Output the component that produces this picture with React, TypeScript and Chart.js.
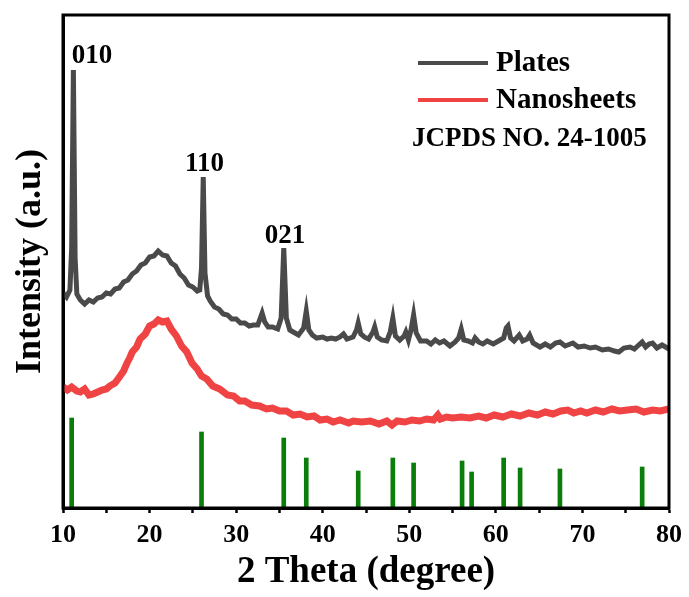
import React, { useEffect, useRef } from 'react';
import { Chart, registerables } from 'chart.js';

Chart.register(...registerables);

const SERIF = '"Liberation Serif", "Times New Roman", serif';

// Plates (black/gray trace)
const platesTheta = [10.0, 10.4, 10.8, 11.0, 11.2, 11.4, 11.6, 12.0, 12.5, 13.0, 13.5, 14.0, 14.5, 15.0, 15.5, 16.0, 16.5, 17.0, 17.5, 18.0, 18.5, 19.0, 19.5, 20.0, 20.5, 21.0, 21.5, 22.0, 22.5, 23.0, 23.5, 24.0, 24.5, 25.0, 25.5, 25.8, 26.0, 26.2, 26.4, 26.7, 27.0, 27.5, 28.0, 28.5, 29.0, 29.5, 30.0, 30.5, 31.0, 31.5, 32.0, 32.5, 33.0, 33.3, 33.7, 34.2, 34.8, 35.2, 35.5, 35.8, 36.2, 36.6, 37.2, 37.8, 38.1, 38.4, 38.8, 39.3, 40.0, 40.5, 41.0, 41.5, 42.0, 42.4, 42.8, 43.5, 43.9, 44.1, 44.4, 44.8, 45.3, 45.8, 46.0, 46.3, 46.8, 47.4, 47.8, 48.1, 48.4, 48.9, 49.4, 49.6, 49.9, 50.2, 50.5, 50.8, 51.3, 52.0, 52.5, 53.0, 53.5, 54.0, 54.7, 55.3, 55.7, 56.0, 56.3, 56.8, 57.3, 57.6, 58.0, 58.5, 59.0, 59.7, 60.3, 60.9, 61.2, 61.4, 61.7, 62.1, 62.7, 63.1, 63.6, 63.9, 64.3, 65.1, 65.7, 66.3, 66.9, 67.4, 68.0, 68.9, 69.5, 70.2, 70.9, 71.5, 72.3, 73.0, 73.7, 74.2, 74.8, 75.5, 76.0, 76.5, 76.9, 77.3, 77.7, 78.1, 78.6, 79.2, 80.0];
const platesIntensity = [215, 211, 218, 260, 438, 250, 214, 208, 204, 208, 206, 210, 211, 215, 214, 219, 220, 226, 228, 234, 237, 243, 245, 251, 252, 257, 253, 252, 245, 242, 234, 230, 223, 221, 217, 218, 240, 331, 235, 212, 207, 201, 199, 194, 193, 189, 189, 185, 185, 182, 183, 183, 195, 186, 181, 181, 179, 190, 260, 190, 178, 176, 173, 180, 197, 178, 173, 170, 171, 169, 170, 169, 171, 174, 169, 171, 178, 185, 174, 171, 169, 176, 181, 171, 168, 167, 176, 190, 172, 168, 172, 176, 168, 178, 193, 175, 167, 167, 164, 168, 165, 167, 162, 166, 170, 179, 168, 167, 165, 170, 166, 164, 167, 164, 167, 170, 180, 182, 170, 167, 173, 167, 169, 173, 165, 161, 164, 161, 165, 166, 162, 165, 161, 162, 160, 161, 158, 159, 157, 156, 160, 161, 159, 163, 166, 161, 164, 165, 160, 163, 159];

// Nanosheets (red trace)
const nanoTheta = [10.0, 10.5, 11.0, 11.6, 12.0, 12.5, 13.0, 13.5, 14.0, 14.5, 15.0, 15.4, 16.0, 16.6, 17.0, 17.4, 17.7, 18.0, 18.5, 18.9, 19.5, 20.0, 20.5, 21.0, 21.5, 22.0, 22.5, 23.1, 23.7, 24.3, 24.9, 25.5, 26.0, 26.6, 27.3, 28.1, 29.0, 29.7, 30.4, 31.0, 31.8, 32.7, 33.5, 34.2, 35.0, 35.8, 36.6, 37.4, 38.2, 39.0, 39.7, 40.5, 41.2, 42.0, 43.0, 43.5, 44.5, 45.5, 46.5, 47.4, 48.0, 48.6, 49.5, 50.3, 51.2, 52.0, 52.8, 53.3, 53.6, 54.3, 55.0, 56.0, 57.0, 58.0, 58.9, 59.8, 60.8, 61.8, 62.8, 63.8, 64.8, 65.7, 66.6, 67.5, 68.3, 69.0, 69.8, 70.5, 71.5, 72.4, 73.4, 74.3, 75.2, 76.2, 77.1, 78.1, 79.0, 80.0];
const nanoIntensity = [121, 118, 121, 117, 116, 119, 113, 114, 116, 118, 119, 122, 125, 132, 137, 145, 150, 156, 161, 169, 174, 182, 184, 188, 186, 187, 179, 172, 162, 156, 145, 139, 132, 129, 122, 119, 113, 112, 107, 107, 103, 102, 99, 100, 97, 97, 93, 94, 91, 92, 88, 89, 86, 88, 85, 87, 86, 87, 84, 87, 83, 87, 86, 88, 87, 89, 88, 93, 89, 91, 90, 91, 90, 92, 90, 93, 91, 94, 92, 95, 93, 96, 94, 97, 98, 95, 97, 95, 98, 96, 99, 97, 98, 99, 96, 98, 97, 99];

// JCPDS No. 24-1005 reference sticks
const jcpdsTheta = [11.0, 26.0, 35.5, 38.1, 44.1, 48.1, 50.5, 56.1, 57.2, 60.9, 62.8, 67.4, 76.9];
const jcpdsIntensity = [90, 76, 70, 50, 37, 50, 45, 47, 36, 50, 40, 39, 41];

// Peak labels
const hklLabels = ['010', '110', '021'];
const hklTheta = [13.35, 26.35, 35.64];
const hklIntensity = [452, 344, 272];

const xTicks = [10, 20, 30, 40, 50, 60, 70, 80];

const seriesNames = ['Plates', 'Nanosheets'];
const seriesColors = ['#4a4a4a', '#f04343'];
const refLabel = 'JCPDS NO. 24-1005';

const overlay = {
  id: 'overlay',
  afterDraw(chart: any) {
    const { ctx, chartArea, scales } = chart;
    const xs = scales.x;
    const ys = scales.y;
    ctx.save();
    ctx.strokeStyle = '#000';
    ctx.lineWidth = 3;
    ctx.strokeRect(chartArea.left, chartArea.top, chartArea.right - chartArea.left, chartArea.bottom - chartArea.top);
    ctx.fillStyle = '#000';
    ctx.font = `bold 27px ${SERIF}`;
    ctx.textAlign = 'center';
    ctx.textBaseline = 'middle';
    hklLabels.forEach((t, i) => {
      ctx.fillText(t, xs.getPixelForValue(hklTheta[i]), ys.getPixelForValue(hklIntensity[i]));
    });
    const r = chartArea.right;
    const t0 = chartArea.top;
    ctx.lineWidth = 4;
    const rows = [t0 + 48, t0 + 85];
    seriesNames.forEach((name, i) => {
      ctx.strokeStyle = seriesColors[i];
      ctx.beginPath();
      ctx.moveTo(r - 251, rows[i]);
      ctx.lineTo(r - 181, rows[i]);
      ctx.stroke();
      ctx.font = `bold 29px ${SERIF}`;
      ctx.textAlign = 'left';
      ctx.fillText(name, r - 173, rows[i] + 1);
    });
    ctx.font = `bold 27px ${SERIF}`;
    ctx.textAlign = 'left';
    ctx.fillText(refLabel, r - 257, t0 + 124);
    ctx.restore();
  },
};

export default function App() {
  const ref = useRef<HTMLCanvasElement>(null);
  useEffect(() => {
    document.body.style.margin = '0';
    const canvas = ref.current!;
    const chart = new Chart(canvas, {
      type: 'line',
      data: {
        datasets: [
          {
            type: 'line',
            label: seriesNames[0],
            data: platesTheta.map((x, i) => ({ x, y: platesIntensity[i] })),
            borderColor: seriesColors[0],
            borderWidth: 5,
            pointRadius: 0,
            tension: 0,
          },
          {
            type: 'line',
            label: seriesNames[1],
            data: nanoTheta.map((x, i) => ({ x, y: nanoIntensity[i] })),
            borderColor: seriesColors[1],
            borderWidth: 7,
            pointRadius: 0,
            tension: 0,
          },
          {
            type: 'bar',
            label: refLabel,
            data: jcpdsTheta.map((x, i) => ({ x, y: jcpdsIntensity[i] })) as any,
            backgroundColor: '#0b7d0b',
            borderWidth: 0,
            barThickness: 4,
          } as any,
        ],
      },
      options: {
        animation: false,
        responsive: false,
        maintainAspectRatio: false,
        layout: { padding: { top: 15, right: 20, left: 0, bottom: 0 } },
        plugins: { legend: { display: false }, tooltip: { enabled: false } },
        scales: {
          x: {
            type: 'linear',
            min: 10,
            max: 80,
            offset: false,
            afterBuildTicks: (scale: any) => {
              const t: any[] = [];
              for (let v = 10; v <= 80; v += 5) t.push({ value: v });
              scale.ticks = t;
            },
            afterFit: (scale: any) => {
              scale.height = 89;
            },
            ticks: {
              autoSkip: false,
              maxRotation: 0,
              padding: 7,
              color: '#000',
              font: { family: SERIF, size: 26, weight: 'bold' },
              callback: (v: any) => (xTicks.includes(Number(v)) ? String(v) : ''),
            },
            grid: {
              drawOnChartArea: false,
              drawTicks: true,
              tickLength: 5,
              tickWidth: 2.5,
              tickColor: '#000',
              offset: false,
            },
            border: { display: true, color: '#000', width: 3 },
            title: {
              display: true,
              text: '2 Theta (degree)',
              color: '#000',
              font: { family: SERIF, size: 37, weight: 'bold' },
              padding: { top: 0, bottom: 2 },
            },
          },
          y: {
            type: 'linear',
            min: 0,
            max: 493,
            afterFit: (scale: any) => {
              scale.width = 63;
            },
            ticks: { display: false },
            grid: { drawOnChartArea: false, drawTicks: false },
            border: { display: true, color: '#000', width: 3 },
            title: {
              display: true,
              text: 'Intensity (a.u.)',
              color: '#000',
              font: { family: SERIF, size: 36, weight: 'bold' },
              padding: { top: 9, bottom: 0 },
            },
          },
        },
      },
      plugins: [overlay],
    });
    return () => chart.destroy();
  }, []);
  return <canvas ref={ref} width={689} height={597} style={{ display: 'block' }} />;
}
